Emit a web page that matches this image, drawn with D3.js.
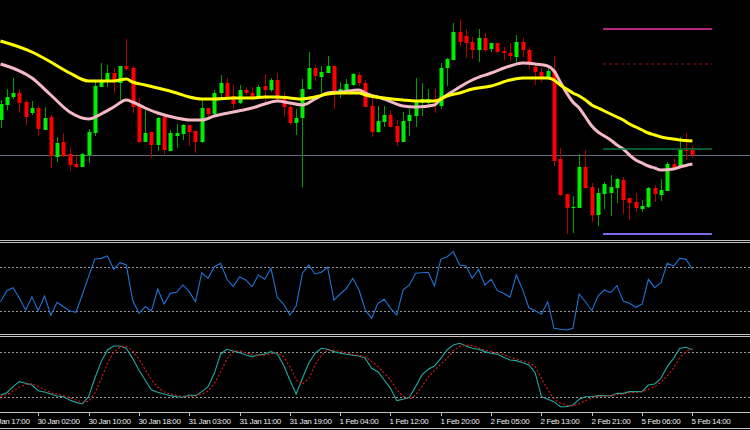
<!DOCTYPE html>
<html><head><meta charset="utf-8">
<script src="https://cdn.jsdelivr.net/npm/d3@7/dist/d3.min.js"></script>
<style>html,body{margin:0;padding:0;background:#000;}svg{display:block;}</style>
</head><body>
<svg id="chart" width="750" height="430"></svg>
<script>
// ---- candle data (hourly bars, index 0..110) ----
const open  = [141.80,141.95,142.03,142.07,141.98,141.87,141.92,141.70,141.83,141.43,141.58,141.46,141.36,141.33,141.45,141.67,142.13,142.18,142.27,142.17,142.34,142.32,141.94,141.58,141.68,141.55,141.83,141.49,141.64,141.66,141.75,141.69,141.58,141.92,141.86,142.07,142.17,142.04,141.97,142.10,142.07,142.03,142.14,142.10,142.20,142.01,141.93,141.77,141.82,142.11,142.32,142.23,142.27,142.34,142.06,142.10,142.15,142.25,142.17,141.94,141.68,141.78,141.85,141.74,141.58,141.79,141.84,141.97,141.97,142.01,141.94,142.32,142.40,142.68,142.64,142.58,142.50,142.62,142.51,142.57,142.49,142.47,142.43,142.58,142.50,142.33,142.28,142.23,142.30,141.41,141.06,140.92,140.92,141.33,141.13,140.85,141.06,141.07,141.12,141.20,141.02,140.98,140.91,140.93,141.12,141.05,141.09,141.36,141.32,141.50,141.50];
const high  = [142.00,142.11,142.22,142.11,142.00,141.99,141.94,141.93,141.85,141.63,141.67,141.53,141.46,141.47,141.71,142.20,142.37,142.35,142.32,142.34,142.61,142.34,142.02,141.92,141.68,141.83,141.83,141.70,141.76,141.76,141.75,141.69,142.01,141.92,142.10,142.25,142.22,142.15,142.15,142.13,142.13,142.15,142.26,142.22,142.27,142.08,141.95,141.91,142.21,142.48,142.35,142.34,142.44,142.34,142.18,142.21,142.27,142.28,142.20,142.03,141.94,141.94,141.90,141.80,141.88,141.91,142.22,142.17,142.11,142.11,142.37,142.42,142.77,142.81,142.71,142.63,142.71,142.67,142.57,142.57,142.53,142.57,142.65,142.62,142.53,142.35,142.32,142.32,142.44,141.52,141.06,141.04,141.46,141.50,141.17,141.12,141.18,141.25,141.22,141.23,141.02,141.07,141.00,141.13,141.15,141.21,141.38,141.42,141.63,141.67,141.54];
const low   = [141.72,141.90,142.01,141.87,141.75,141.85,141.64,141.70,141.32,141.38,141.43,141.29,141.32,141.33,141.37,141.64,142.13,142.13,142.07,142.00,142.29,141.87,141.57,141.58,141.42,141.49,141.46,141.49,141.52,141.60,141.54,141.47,141.57,141.83,141.85,142.01,142.01,141.91,141.96,142.05,142.00,142.02,141.97,142.08,141.99,141.83,141.75,141.65,141.13,142.10,142.19,142.07,142.27,141.91,142.02,142.06,142.14,142.14,141.93,141.63,141.67,141.73,141.73,141.54,141.58,141.64,141.73,141.84,141.92,141.87,141.91,142.14,142.40,142.54,142.42,142.41,142.38,142.48,142.48,142.47,142.40,142.39,142.38,142.43,142.31,142.15,142.18,142.22,141.34,141.04,140.66,140.67,140.92,141.12,140.78,140.74,140.91,140.84,140.97,140.86,140.80,140.88,140.88,140.92,140.98,140.99,141.09,141.31,141.32,141.40,141.42];
const close = [141.96,142.03,142.07,141.97,141.83,141.92,141.71,141.82,141.44,141.57,141.44,141.35,141.33,141.46,141.68,142.14,142.18,142.27,142.20,142.34,142.31,141.93,141.58,141.67,141.55,141.82,141.50,141.67,141.67,141.75,141.68,141.58,141.92,141.86,142.07,142.17,142.03,141.96,142.10,142.07,142.03,142.13,142.10,142.20,142.01,141.93,141.77,141.82,142.11,142.32,142.24,142.28,142.34,142.07,142.11,142.16,142.26,142.17,141.93,141.68,141.79,141.85,141.73,141.58,141.79,141.85,141.98,142.01,142.01,142.00,142.32,142.41,142.68,142.58,142.57,142.50,142.62,142.50,142.57,142.48,142.47,142.44,142.58,142.50,142.37,142.28,142.23,142.29,141.39,141.05,140.92,140.93,141.33,141.12,140.85,141.07,141.16,141.13,141.21,141.00,140.97,140.92,140.94,141.12,141.06,141.10,141.36,141.32,141.50,141.49,141.45];

// ---- moving averages (read at these bar indices) ----
const maIdx  = [0,5,8,11,14,16,18,20,21,23,25,28,30,32,34,37,40,42,44,46,48,50,52,54,57,58,61,64,66,69,70,71,73,75,78,81,83,85,87,88,89,90,91,92,93,94,95,96,97,98,99,100,101,102,103,104,105,107,108,110];
const maSlow = [142.59,142.48,142.38,142.27,142.19,142.19,142.19,142.21,142.18,142.15,142.12,142.07,142.03,142.01,142.01,142.02,142.02,142.03,142.03,142.02,142.01,142.03,142.06,142.07,142.07,142.05,142.02,142.00,141.99,141.99,142.01,142.04,142.07,142.11,142.14,142.20,142.22,142.22,142.22,142.20,142.15,142.11,142.07,142.04,142.00,141.95,141.92,141.89,141.86,141.83,141.80,141.76,141.73,141.70,141.67,141.65,141.63,141.61,141.60,141.59];
const maFast = [142.36,142.22,142.05,141.88,141.81,141.86,141.93,142.00,141.98,141.92,141.87,141.82,141.80,141.80,141.84,141.88,141.92,141.96,141.99,141.97,141.95,142.01,142.07,142.08,142.10,142.07,142.01,141.94,141.93,141.95,142.01,142.05,142.13,142.20,142.27,142.34,142.37,142.36,142.34,142.29,142.18,142.07,141.98,141.92,141.83,141.74,141.68,141.64,141.60,141.55,141.51,141.45,141.40,141.37,141.34,141.32,141.30,141.31,141.33,141.36];

// ---- horizontal price levels drawn on the right ----
const levelPrices = [142.71, 142.36, 141.51, 140.66];
const levelFromBar = 95.8, levelToBar = 113.1;

// ---- RSI ----
const rsi = [38.6,48.5,51.2,41.7,31.2,43.1,30.5,43.7,26.7,38.1,34.1,30.5,29.1,44.6,61.0,76.9,77.5,79.6,67.7,73.6,71.5,40.1,28.2,34.1,30.3,50.0,36.5,46.1,47.0,53.6,47.6,38.6,64.6,59.6,70.0,73.0,58.7,52.1,61.0,58.1,52.1,62.6,58.7,68.6,42.6,36.5,26.7,34.8,64.1,71.5,63.5,65.0,69.5,40.1,45.5,50.6,59.6,49.1,31.2,23.7,37.2,40.8,32.7,26.7,49.1,53.6,64.1,64.6,65.0,52.7,76.6,79.0,83.5,71.5,70.6,59.6,67.7,53.6,58.7,48.5,46.1,42.6,62.6,49.7,33.2,30.5,27.6,38.6,14.8,13.9,13.2,14.8,45.5,38.6,30.5,43.7,49.1,46.7,53.0,39.2,37.2,33.6,36.5,58.7,51.2,55.7,73.0,70.6,77.5,76.6,67.7];
const rsiLevels = [70, 30];

// ---- Stochastic ----
const stochMain = [22.7,25.8,33.9,40.6,38.4,36.1,28.5,26.7,24.0,21.3,20.4,16.0,12.8,10.6,20.4,45.1,67.5,83.1,88.5,88.5,85.4,71.9,56.3,42.8,29.4,26.3,24.0,21.8,20.4,19.6,22.7,21.8,27.2,33.9,51.8,77.8,84.0,81.8,79.6,76.4,74.2,76.4,77.8,80.9,77.8,63.0,42.8,24.0,45.1,65.2,78.7,85.4,84.0,80.9,78.7,77.3,76.0,75.1,71.9,58.5,54.0,42.8,31.6,15.1,16.9,19.6,33.9,49.6,57.2,61.6,71.9,83.1,89.9,92.1,88.5,85.4,84.0,80.9,78.7,77.3,73.3,69.7,68.8,66.1,63.0,52.7,20.4,16.9,13.7,7.0,7.0,9.3,16.9,20.4,20.4,21.8,21.8,21.3,24.9,24.9,27.2,27.2,27.2,36.1,37.5,45.1,60.8,71.9,85.4,86.7,83.1];
const stochSignal = [21,23,28,33,37,38,34,30,26,24,22,19,16,13,14,25,44,65,80,87,88,82,71,57,43,33,27,24,22,21,21,21,24,28,38,54,71,81,82,79,77,76,76,78,79,74,61,43,37,45,63,76,83,83,81,79,77,76,74,68,61,52,43,30,21,17,23,34,47,56,64,72,82,88,90,89,86,83,81,79,77,73,71,68,66,61,45,30,17,12,9,8,11,15,19,21,21,22,23,24,26,26,27,30,34,40,48,59,73,81,85];
const stochLevels = [80, 20];

// ---- time axis labels ----
const tickBars = [-2,6,14,22,30,38,46,54,62,70,78,86,94,102,110];
const tickLabels = ["29 Jan 17:00","30 Jan 02:00","30 Jan 10:00","30 Jan 18:00","31 Jan 03:00","31 Jan 11:00","31 Jan 19:00","1 Feb 04:00","1 Feb 12:00","1 Feb 20:00","2 Feb 05:00","2 Feb 13:00","2 Feb 21:00","5 Feb 06:00","5 Feb 14:00"];

// ================= drawing =================
const W = 750, H = 430;
const svg = d3.select("#chart");
svg.append("rect").attr("width", W).attr("height", H).attr("fill", "#000");

const x = d3.scaleLinear().domain([0, 110]).range([0.5, 692.4]);
const main = {top: 0, bottom: 240};
const rsiP = {top: 244, bottom: 334};
const stoP = {top: 337, bottom: 412};

const y = d3.scaleLinear().domain([143.00, 140.60]).range([main.top, main.bottom]);
const yR = d3.scaleLinear().domain([30, 70]).range([311.3, 266.7]);
const yS = d3.scaleLinear().domain([0, 100]).range([411.9, 337.4]);

const defs = svg.append("defs");
function clip(id, p) {
  defs.append("clipPath").attr("id", id).append("rect")
    .attr("x", 0).attr("y", p.top).attr("width", W).attr("height", p.bottom - p.top);
}
clip("cMain", main); clip("cRsi", rsiP); clip("cSto", stoP);

// ---- main window ----
const gM = svg.append("g").attr("clip-path", "url(#cMain)");
const idx = d3.range(open.length);

// bid line (last close)
const bidY = Math.round(y(close[close.length - 1])) + 0.5;
gM.append("line").attr("x1", 0).attr("x2", W).attr("y1", bidY).attr("y2", bidY)
  .attr("stroke", "#5f6b78").attr("stroke-width", 1.2);

// candles
const up = i => close[i] >= open[i];
gM.selectAll("line.wick").data(idx).join("line").attr("class", "wick")
  .attr("x1", i => Math.round(x(i)) + 0.5).attr("x2", i => Math.round(x(i)) + 0.5)
  .attr("y1", i => y(high[i])).attr("y2", i => y(low[i]))
  .attr("stroke", i => up(i) ? "#00a000" : "#b00000").attr("stroke-width", 1);
gM.selectAll("rect.body").data(idx).join("rect").attr("class", "body")
  .attr("x", i => Math.round(x(i)) - 1.5).attr("width", 4)
  .attr("y", i => y(Math.max(open[i], close[i])))
  .attr("height", i => Math.max(1, Math.abs(y(open[i]) - y(close[i]))))
  .attr("fill", i => up(i) ? "#00ee00" : "#ff0000");

// moving averages
const maLine = vals => d3.line().x((d, j) => x(maIdx[j])).y(d => y(d)).curve(d3.curveMonotoneX)(vals);
gM.append("path").attr("d", maLine(maFast)).attr("fill", "none").attr("stroke", "#f4b9c4").attr("stroke-width", 3);
gM.append("path").attr("d", maLine(maSlow)).attr("fill", "none").attr("stroke", "#ffff00").attr("stroke-width", 3);

// level lines
const levelStyles = [
  {c: "#b5247f", w: 2, dash: null},
  {c: "#a01818", w: 1, dash: "3,3"},
  {c: "#0b7a3e", w: 1.5, dash: null},
  {c: "#7d6be6", w: 2.2, dash: null}
];
levelPrices.forEach((p, k) => {
  const s = levelStyles[k];
  gM.append("line").attr("x1", x(levelFromBar)).attr("x2", x(levelToBar))
    .attr("y1", y(p)).attr("y2", y(p))
    .attr("stroke", s.c).attr("stroke-width", s.w).attr("stroke-dasharray", s.dash);
});

// ---- separators ----
const sepColor = "#bfbfbf";
[[240.5,1],[242.5,1],[334.5,1],[336.5,1],[412.5,1],[428.5,1.2]].forEach(([yy, w]) => {
  svg.append("line").attr("x1", 0).attr("x2", W).attr("y1", yy).attr("y2", yy)
    .attr("stroke", sepColor).attr("stroke-width", w);
});

// ---- RSI window ----
const gR = svg.append("g").attr("clip-path", "url(#cRsi)");
rsiLevels.forEach(l => gR.append("line").attr("x1", 0).attr("x2", W)
  .attr("y1", Math.round(yR(l)) + 0.5).attr("y2", Math.round(yR(l)) + 0.5)
  .attr("stroke", "#9a9a9a").attr("stroke-width", 1).attr("stroke-dasharray", "2,2"));
gR.append("path").attr("d", d3.line().x((d, i) => x(i)).y(d => yR(d))(rsi))
  .attr("fill", "none").attr("stroke", "#2272d6").attr("stroke-width", 1.1);

// ---- Stochastic window ----
const gS = svg.append("g").attr("clip-path", "url(#cSto)");
stochLevels.forEach(l => gS.append("line").attr("x1", 0).attr("x2", W)
  .attr("y1", Math.round(yS(l)) + 0.5).attr("y2", Math.round(yS(l)) + 0.5)
  .attr("stroke", "#9a9a9a").attr("stroke-width", 1).attr("stroke-dasharray", "2,2"));
gS.append("path").attr("d", d3.line().x((d, i) => x(i)).y(d => yS(d))(stochMain))
  .attr("fill", "none").attr("stroke", "#20aaa2").attr("stroke-width", 1.1);
gS.append("path").attr("d", d3.line().x((d, i) => x(i)).y(d => yS(d))(stochSignal))
  .attr("fill", "none").attr("stroke", "#e01818").attr("stroke-width", 1.1).attr("stroke-dasharray", "2,2");

// ---- time axis ----
const gA = svg.append("g");
tickBars.forEach((b, k) => {
  const tx = Math.round(x(b)) + 0.5;
  gA.append("line").attr("x1", tx).attr("x2", tx).attr("y1", 413).attr("y2", 416)
    .attr("stroke", "#bfbfbf").attr("stroke-width", 1);
  gA.append("text").attr("x", tx - 1).attr("y", 424)
    .attr("fill", "#ececec").attr("font-family", "Liberation Sans, Arial, sans-serif")
    .attr("font-size", "8px").attr("letter-spacing", "-0.35px").text(tickLabels[k]);
});
</script>
</body></html>
